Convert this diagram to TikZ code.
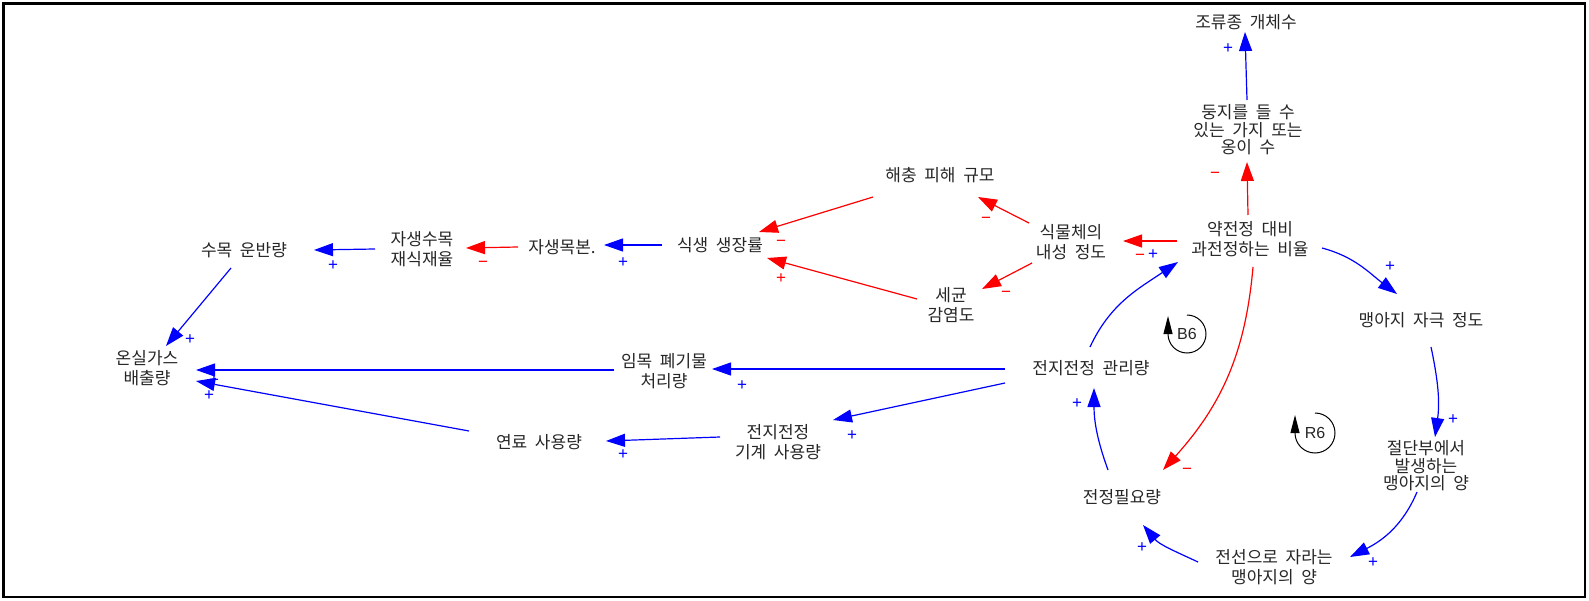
\documentclass[tikz,border=0pt]{standalone}
\usepackage{fontspec}
\setmainfont{Noto Sans CJK KR}[WordSpace=2]
\newfontfamily\signfont{Liberation Sans}
\usetikzlibrary{arrows.meta,calc}
\definecolor{cldblue}{RGB}{0,0,255}
\definecolor{cldred}{RGB}{255,0,0}
\tikzset{
  cvar/.style={align=center, inner sep=0pt, font=\fontsize{17}{20}\selectfont, text=black!85},
  cvarthree/.style={cvar, font=\fontsize{17}{17.5}\selectfont},
  posarr/.style={draw=cldblue, line width=1.2pt, -{Triangle[length=19pt,width=13pt]}},
  negarr/.style={draw=cldred, line width=1.2pt, -{Triangle[length=19pt,width=13pt]}},
  plussign/.style={text=cldblue, font=\signfont\fontsize{17}{17}\selectfont, inner sep=0pt, text height=9pt, text depth=0pt},
  plusred/.style={plussign, text=cldred},
  minussign/.style={plussign, text=cldred},
  looptext/.style={font=\signfont\fontsize{16}{16}\selectfont, inner sep=0pt, text=black!85},
  loopline/.style={draw=black, line width=1pt, -{Triangle[length=18pt,width=9pt]}}
}
\begin{document}
\begin{tikzpicture}[x=1pt,y=1pt]
\useasboundingbox (0,0) rectangle (1589,-601);
\draw[line width=2.3pt] (3.5,-3.5) rectangle (1585,-597);

% variables
\node[cvar] (n1) at (1246,-22) {조류종 개체수};
\node[cvarthree] (n2) at (1248,-130) {둥지를 들 수\\있는 가지 또는\\옹이 수};
\node[cvar] (n3) at (1250,-239) {약전정 대비\\과전정하는 비율};
\node[cvar] (n4) at (1071,-242) {식물체의\\내성 정도};
\node[cvar] (n5) at (940,-175) {해충 피해 규모};
\node[cvar] (n6) at (951,-305) {세균\\감염도};
\node[cvar] (n7) at (720,-245) {식생 생장률};
\node[cvar] (n8) at (562,-247) {자생목본.};
\node[cvar] (n9) at (422,-249) {자생수목\\재식재율};
\node[cvar] (n10) at (244,-250) {수목 운반량};
\node[cvar] (n11) at (147,-368) {온실가스\\배출량};
\node[cvar] (n12) at (664,-371) {임목 폐기물\\처리량};
\node[cvar] (n13) at (1091,-368) {전지전정 관리량};
\node[cvar] (n14) at (778,-442) {전지전정\\기계 사용량};
\node[cvar] (n15) at (539,-442) {연료 사용량};
\node[cvar] (n16) at (1421,-320) {맹아지 자극 정도};
\node[cvarthree] (n17) at (1426,-466) {절단부에서\\발생하는\\맹아지의 양};
\node[cvar] (n18) at (1274,-567) {전선으로 자라는\\맹아지의 양};
\node[cvar] (n19) at (1122,-497) {전정필요량};

% loops
\node[looptext] (b6) at (1187,-334) {B6};
\draw[loopline] ($(b6)+(0,19)$) arc[start angle=90, end angle=-180, radius=19] -- ++(0,18);
\node[looptext] (r6) at (1315,-433) {R6};
\draw[loopline] ($(r6)+(0,20)$) arc[start angle=90, end angle=-180, radius=20] -- ++(0,18);

% straight links
\draw[posarr] ($(n2)+(-1,30)$) -- ($(n1)+(-1,-10)$);
\draw[negarr] ($(n3)+(-2,24)$) -- ($(n2)+(-1,-32)$);
\draw[negarr] ($(n3)+(-73,-2)$) -- ($(n4)+(52,1)$);
\draw[negarr] ($(n4)+(-42,19)$) -- ($(n5)+(38,-22)$);
\draw[negarr] ($(n4)+(-39,-21)$) -- ($(n6)+(31,16)$);
\draw[negarr] ($(n5)+(-67,-22)$) -- ($(n7)+(39,13)$);
\draw[negarr] ($(n6)+(-34,6)$) -- ($(n7)+(47,-13)$);
\draw[posarr] ($(n7)+(-58,0)$) -- ($(n8)+(42,2)$);
\draw[negarr] ($(n8)+(-44,0)$) -- ($(n9)+(44,1)$);
\draw[posarr] ($(n9)+(-47,0)$) -- ($(n10)+(70,0)$);
\draw[posarr] ($(n10)+(-13,-18)$) -- ($(n11)+(19,22)$);
\draw[posarr] ($(n12)+(-50,1)$) -- ($(n11)+(49,-2)$);
\draw[posarr] ($(n15)+(-70,11)$) -- ($(n11)+(49,-13)$);
\draw[posarr] ($(n13)+(-86,-1)$) -- ($(n12)+(48,2)$);
\draw[posarr] ($(n13)+(-86,-15)$) -- ($(n14)+(55,22)$);
\draw[posarr] ($(n14)+(-58,5)$) -- ($(n15)+(67,1)$);

% curved links
\draw[posarr] ($(n13)+(-1,21)$) to[out=65,in=214] ($(n3)+(-72,-23)$);
\draw[posarr] ($(n3)+(72,-9)$) to[out=-15,in=143] ($(n16)+(-24,26)$);
\draw[posarr] ($(n16)+(10,-27)$) to[out=-78,in=82] ($(n17)+(9,29)$);
\draw[posarr] ($(n17)+(-9,-26)$) to[out=-113,in=27] ($(n18)+(76,10)$);
\draw[posarr] ($(n18)+(-76,5)$) to[out=155,in=-50] ($(n19)+(21,-28)$);
\draw[posarr] ($(n19)+(-14,27)$) to[out=110,in=-90] ($(n13)+(3,-20)$);
\draw[negarr] ($(n3)+(3,-28)$) to[out=-95,in=48] ($(n19)+(41,27)$);

% polarity signs
\node[plussign] (s1) at (1228,-49) {+};
\node[minussign] (s2) at (1215,-174) {−};
\node[minussign] (s3) at (1140,-256) {−};
\node[plussign] (s17) at (1153,-255) {+};
\node[minussign] (s4) at (986,-219) {−};
\node[minussign] (s5) at (1006,-293) {−};
\node[minussign] (s6) at (781,-242) {−};
\node[plusred] (s7) at (781,-279) {+};
\node[plussign] (s8) at (623,-263) {+};
\node[minussign] (s9) at (483,-263) {−};
\node[plussign] (s10) at (333,-266) {+};
\node[plussign] (s11) at (190,-340) {+};
\node[plussign] (s12) at (214,-381) {+};
\node[plussign] (s13) at (209,-396) {+};
\node[plussign] (s14) at (742,-386) {+};
\node[plussign] (s15) at (852,-436) {+};
\node[plussign] (s16) at (623,-455) {+};
\node[plussign] (s18) at (1390,-267) {+};
\node[plussign] (s19) at (1453,-420) {+};
\node[plussign] (s20) at (1373,-563) {+};
\node[plussign] (s21) at (1142,-548) {+};
\node[plussign] (s22) at (1077,-404) {+};
\node[minussign] (s23) at (1187,-470) {−};
\end{tikzpicture}
\end{document}
